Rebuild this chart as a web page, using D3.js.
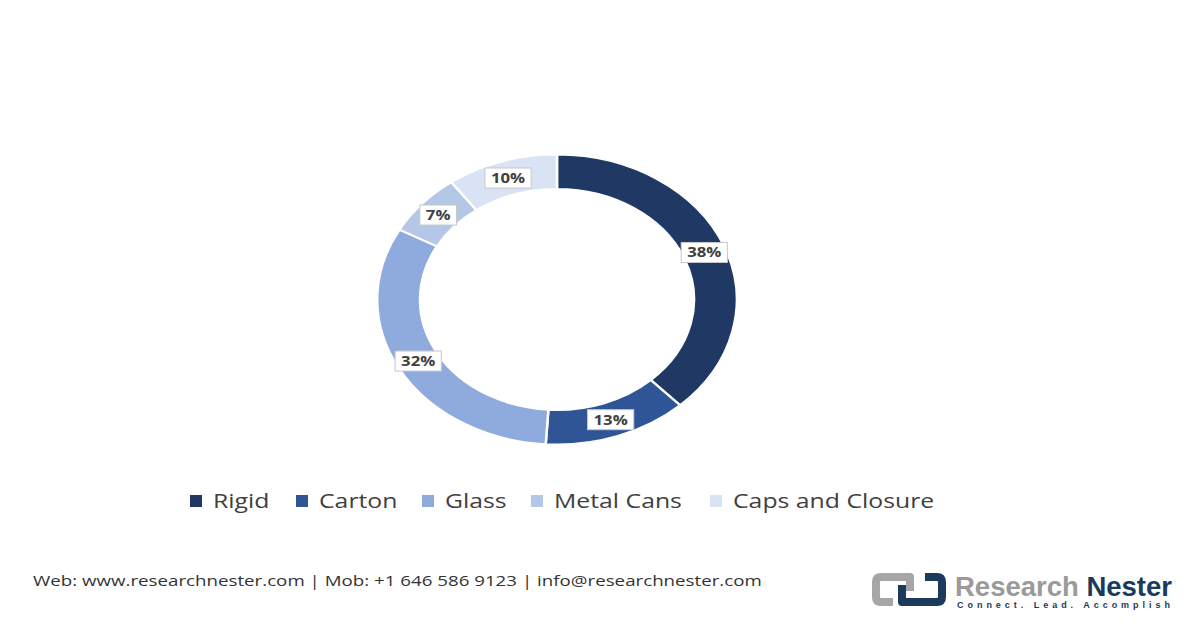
<!DOCTYPE html>
<html>
<head>
<meta charset="utf-8">
<script src="https://cdn.jsdelivr.net/npm/d3@7"></script>
<style>
  html, body { margin: 0; padding: 0; background: #ffffff; }
  svg { display: block; }
</style>
</head>
<body>
<svg id="chart" width="1200" height="628"></svg>
<script>
const categories = ["Rigid", "Carton", "Glass", "Metal Cans", "Caps and Closure"];
const values = [38, 13, 32, 7, 10];
const labels = ["38%", "13%", "32%", "7%", "10%"];
const colors = ["#1f3864", "#2f5597", "#8faadc", "#b4c7e7", "#dae3f3"];
const footerText = "Web: www.researchnester.com | Mob: +1 646 586 9123 | info@researchnester.com";

const svg = d3.select("#chart");
const W = 1200, H = 628;
svg.append("rect").attr("width", W).attr("height", H).attr("fill", "#ffffff");

// the whole picture is stretched horizontally
const sx = 1.24;
const cx = 557, cy = 299.5;
const rOuter = 145, rInner = 110.5;

const data = categories.map((c, i) => ({ cat: c, value: values[i], label: labels[i], color: colors[i] }));
const pie = d3.pie().value(d => d.value).sort(null);
const arcs = pie(data);
const arc = d3.arc().innerRadius(rInner).outerRadius(rOuter);

const ring = svg.append("g").attr("transform", `translate(${cx},${cy}) scale(${sx},1)`);
ring.selectAll("path").data(arcs).join("path")
  .attr("d", arc)
  .attr("fill", d => d.data.color)
  .attr("stroke", "#ffffff")
  .attr("stroke-width", 2);

// labels
const labelArc = d3.arc().innerRadius((rInner + rOuter) / 2).outerRadius((rInner + rOuter) / 2);
const lg = svg.append("g");
arcs.forEach(a => {
  const [x, y] = labelArc.centroid(a);
  const px = cx + x * sx, py = cy + y;
  const g = lg.append("g").attr("transform", `translate(${px},${py})`);
  const t = g.append("text")
    .attr("text-anchor", "middle")
    .attr("dy", "0.36em")
    .attr("transform", `scale(${sx},1)`)
    .attr("font-family", "Open Sans, sans-serif")
    .attr("font-weight", 700)
    .attr("font-size", 13.5)
    .attr("fill", "#404040")
    .text(a.data.label);
  const w = t.node().getComputedTextLength() * sx + 12;
  g.insert("rect", "text")
    .attr("x", -w / 2).attr("y", -10).attr("width", w).attr("height", 20)
    .attr("fill", "#ffffff").attr("stroke", "#c8c8c8").attr("stroke-width", 1);
});

// legend
const legendX = [190, 296, 422, 531, 710];
const legend = svg.append("g");
data.forEach((d, i) => {
  legend.append("rect")
    .attr("x", legendX[i]).attr("y", 495).attr("width", 12).attr("height", 12)
    .attr("fill", d.color);
  legend.append("text")
    .attr("transform", `translate(${legendX[i] + 23},508) scale(${sx},1)`)
    .attr("font-family", "Open Sans, sans-serif")
    .attr("font-size", 20)
    .attr("fill", "#404040")
    .text(d.cat);
});

// footer
svg.append("text")
  .attr("transform", `translate(33,586) scale(${sx},1)`)
  .attr("font-family", "Open Sans, sans-serif")
  .attr("font-size", 15.1)
  .attr("fill", "#333333")
  .text(footerText);

// logo
const logo = svg.append("g");
logo.append("path")
  .attr("d", "M 910 591 L 910 577 L 881 577 Q 876 577 876 582 L 876 597 Q 876 602 881 602 L 893 602")
  .attr("fill", "none").attr("stroke", "#a6a6a6").attr("stroke-width", 8).attr("stroke-linejoin", "round");
logo.append("path")
  .attr("d", "M 902 585 L 902 602 L 937 602 Q 942 602 942 597 L 942 582 Q 942 577 937 577 L 925 577")
  .attr("fill", "none").attr("stroke", "#1b3a5c").attr("stroke-width", 8).attr("stroke-linejoin", "round");
const lt = logo.append("text")
  .attr("x", 955).attr("y", 596)
  .attr("font-family", "Liberation Sans, Arial, sans-serif")
  .attr("font-weight", 700)
  .attr("font-size", 27)
  .attr("textLength", 217).attr("lengthAdjust", "spacingAndGlyphs");
lt.append("tspan").attr("fill", "#9a9a9a").text("Research ");
lt.append("tspan").attr("fill", "#1b3a5c").text("Nester");
logo.append("text")
  .attr("x", 957).attr("y", 608)
  .attr("font-family", "Liberation Sans, Arial, sans-serif")
  .attr("font-weight", 700)
  .attr("font-size", 9)
  .attr("fill", "#1b3a5c")
  .attr("textLength", 213).attr("lengthAdjust", "spacing")
  .text("Connect. Lead. Accomplish");
</script>
</body>
</html>
